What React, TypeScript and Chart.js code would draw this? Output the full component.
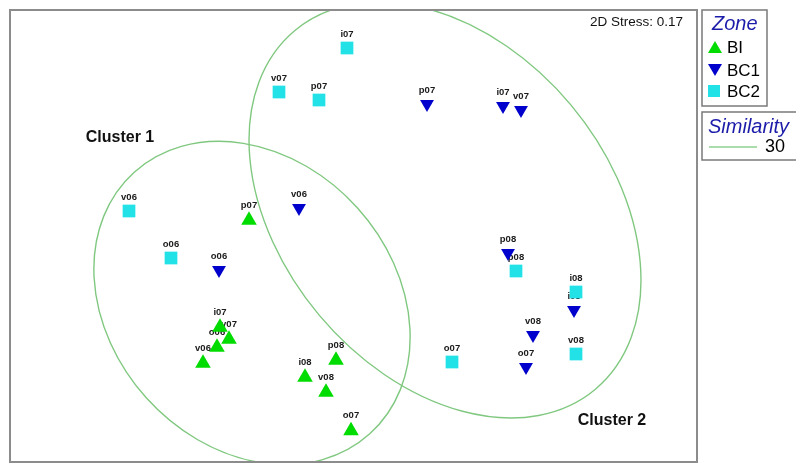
import React, { useEffect, useRef } from 'react';
import { Chart, registerables } from 'chart.js';

Chart.register(...registerables);

// MDS ordination coordinates (arbitrary MDS units)
const biLabels = ['p07', 'i07', 'v07', 'o06', 'v06', 'p08', 'i08', 'v08', 'o07'];
const biX = [-0.505, -0.65, -0.605, -0.665, -0.735, -0.07, -0.225, -0.12, 0.005];
const biY = [0.099, -0.436, -0.496, -0.536, -0.616, -0.601, -0.686, -0.761, -0.954];

const bc1Labels = ['p07', 'i07', 'v07', 'v06', 'o06', 'p08', 'i08', 'v08', 'o07'];
const bc1X = [0.385, 0.765, 0.855, -0.255, -0.655, 0.79, 1.12, 0.915, 0.88];
const bc1Y = [0.68, 0.67, 0.65, 0.16, -0.15, -0.065, -0.35, -0.475, -0.635];

const bc2Labels = ['i07', 'v07', 'p07', 'v06', 'o06', 'p08', 'i08', 'v08', 'o07'];
const bc2X = [-0.015, -0.355, -0.155, -1.105, -0.895, 0.83, 1.13, 1.13, 0.51];
const bc2Y = [0.96, 0.74, 0.7, 0.145, -0.09, -0.155, -0.26, -0.57, -0.61];

// similarity 30 cluster outlines (centre, semi-axes, tilt in degrees)
const clusterNames = ['Cluster 1', 'Cluster 2'];
const clusterCx = [-0.49, 0.475];
const clusterCy = [-0.315, 0.15];
const clusterA = [0.88, 1.17];
const clusterB = [0.71, 0.82];
const clusterTilt = [48, 50];
const clusterLabelX = [-1.15, 1.31];
const clusterLabelY = [0.51, -0.905];

const zoneNames = ['BI', 'BC1', 'BC2'];
const stressText = '2D Stress: 0.17';
const similarityLevel = '30';

const X_MIN = -1.7;
const X_MAX = 1.735;
const Y_MIN = -1.11;
const Y_MAX = 1.15;

const GREEN = '#00dc00';
const BLUE = '#0000cc';
const CYAN = '#22e2e8';
const FONT = "'Liberation Sans', Arial, sans-serif";
const TITLE_BLUE = '#1c1caa';

const toPts = (xs: number[], ys: number[]) => xs.map((v, i) => ({ x: v, y: ys[i] }));

function tri(ctx: CanvasRenderingContext2D, cx: number, cy: number, w: number, h: number, down: boolean) {
  ctx.beginPath();
  if (!down) {
    ctx.moveTo(cx, cy - h / 2);
    ctx.lineTo(cx + w / 2, cy + h / 2);
    ctx.lineTo(cx - w / 2, cy + h / 2);
  } else {
    ctx.moveTo(cx, cy + h / 2);
    ctx.lineTo(cx + w / 2, cy - h / 2);
    ctx.lineTo(cx - w / 2, cy - h / 2);
  }
  ctx.closePath();
  ctx.fill();
}

const mdsPlugin = {
  id: 'mdsPlugin',
  beforeDraw(chart: any) {
    const { ctx, width, height } = chart;
    ctx.save();
    ctx.fillStyle = '#ffffff';
    ctx.fillRect(0, 0, width, height);
    ctx.restore();
  },
  beforeDatasetsDraw(chart: any) {
    const { ctx, chartArea, scales } = chart;
    const xs = scales.x;
    const ys = scales.y;
    ctx.save();
    ctx.beginPath();
    ctx.rect(chartArea.left, chartArea.top, chartArea.right - chartArea.left, chartArea.bottom - chartArea.top);
    ctx.clip();
    // cluster outlines
    const ux = xs.getPixelForValue(1) - xs.getPixelForValue(0);
    const uy = ys.getPixelForValue(0) - ys.getPixelForValue(1);
    ctx.strokeStyle = '#80c880';
    ctx.lineWidth = 1.4;
    for (let i = 0; i < clusterNames.length; i++) {
      ctx.beginPath();
      ctx.ellipse(
        xs.getPixelForValue(clusterCx[i]),
        ys.getPixelForValue(clusterCy[i]),
        clusterA[i] * ux,
        clusterB[i] * uy,
        (clusterTilt[i] * Math.PI) / 180,
        0,
        Math.PI * 2
      );
      ctx.stroke();
    }
    // cluster names
    ctx.fillStyle = '#111';
    ctx.font = `bold 16px ${FONT}`;
    ctx.textAlign = 'center';
    ctx.textBaseline = 'middle';
    for (let i = 0; i < clusterNames.length; i++) {
      ctx.fillText(clusterNames[i], xs.getPixelForValue(clusterLabelX[i]), ys.getPixelForValue(clusterLabelY[i]));
    }
    // stress
    ctx.font = `13.5px ${FONT}`;
    ctx.textAlign = 'right';
    ctx.fillText(stressText, chartArea.right - 14, chartArea.top + 12);
    // point labels
    ctx.font = `bold 9.5px ${FONT}`;
    ctx.fillStyle = '#1a1a1a';
    ctx.textAlign = 'center';
    chart.data.datasets.forEach((ds: any, di: number) => {
      const meta = chart.getDatasetMeta(di);
      meta.data.forEach((el: any, pi: number) => {
        ctx.fillText(ds.pointNames[pi], el.x, el.y - ds.labelOffset);
      });
    });
    ctx.restore();
  },
  afterDraw(chart: any) {
    const { ctx, chartArea } = chart;
    ctx.save();
    // frame
    ctx.strokeStyle = '#8c8c8c';
    ctx.lineWidth = 2;
    ctx.strokeRect(chartArea.left, chartArea.top, chartArea.right - chartArea.left, chartArea.bottom - chartArea.top);
    // legend box 1
    const lx = chartArea.right + 5;
    ctx.strokeStyle = '#7a7a7a';
    ctx.lineWidth = 1.5;
    ctx.strokeRect(lx, 10, 65, 96);
    ctx.strokeRect(lx, 112, 120, 48);
    ctx.fillStyle = TITLE_BLUE;
    ctx.font = `italic 20px ${FONT}`;
    ctx.textAlign = 'left';
    ctx.textBaseline = 'middle';
    ctx.fillText('Zone', lx + 10, 24);
    ctx.fillText('Similarity', lx + 6, 127);
    const rows = [47, 70, 91];
    ctx.fillStyle = GREEN;
    tri(ctx, lx + 13, rows[0], 14, 12, false);
    ctx.fillStyle = BLUE;
    tri(ctx, lx + 13, rows[1], 14, 12, true);
    ctx.fillStyle = CYAN;
    ctx.fillRect(lx + 6, rows[2] - 6, 12, 12);
    ctx.fillStyle = '#000';
    ctx.font = `17px ${FONT}`;
    zoneNames.forEach((n, i) => ctx.fillText(n, lx + 25, rows[i] + 1));
    ctx.strokeStyle = '#8fd08f';
    ctx.lineWidth = 1.4;
    ctx.beginPath();
    ctx.moveTo(lx + 7, 147);
    ctx.lineTo(lx + 55, 147);
    ctx.stroke();
    ctx.font = `18px ${FONT}`;
    ctx.fillText(similarityLevel, lx + 63, 147);
    ctx.restore();
  },
};

export default function App() {
  const ref = useRef<HTMLCanvasElement>(null);
  useEffect(() => {
    if (!ref.current) return;
    const chart = new Chart(ref.current, {
      type: 'scatter',
      data: {
        datasets: [
          {
            label: 'BI',
            data: toPts(biX, biY),
            pointNames: biLabels,
            labelOffset: 15,
            pointStyle: 'triangle',
            pointRadius: 9,
            pointHoverRadius: 9,
            backgroundColor: GREEN,
            borderColor: GREEN,
            borderWidth: 0,
          } as any,
          {
            label: 'BC1',
            data: toPts(bc1X, bc1Y),
            pointNames: bc1Labels,
            labelOffset: 14,
            pointStyle: 'triangle',
            rotation: 180,
            pointRadius: 8,
            pointHoverRadius: 8,
            backgroundColor: BLUE,
            borderColor: BLUE,
            borderWidth: 0,
          } as any,
          {
            label: 'BC2',
            data: toPts(bc2X, bc2Y),
            pointNames: bc2Labels,
            labelOffset: 14,
            pointStyle: 'rect',
            pointRadius: 9,
            pointHoverRadius: 9,
            backgroundColor: CYAN,
            borderColor: CYAN,
            borderWidth: 0,
          } as any,
        ],
      },
      options: {
        responsive: false,
        animation: false,
        devicePixelRatio: 1,
        events: [],
        layout: { autoPadding: false, padding: { left: 10, top: 10, right: 99, bottom: 2 } },
        scales: {
          x: { type: 'linear', min: X_MIN, max: X_MAX, display: false },
          y: { type: 'linear', min: Y_MIN, max: Y_MAX, display: false },
        },
        plugins: { legend: { display: false }, tooltip: { enabled: false } },
      },
      plugins: [mdsPlugin],
    } as any);
    return () => chart.destroy();
  }, []);
  return (
    <div style={{ position: 'fixed', left: 0, top: 0, width: 796, height: 464, background: '#fff' }}>
      <canvas ref={ref} width={796} height={464} style={{ display: 'block', width: 796, height: 464 }} />
    </div>
  );
}
